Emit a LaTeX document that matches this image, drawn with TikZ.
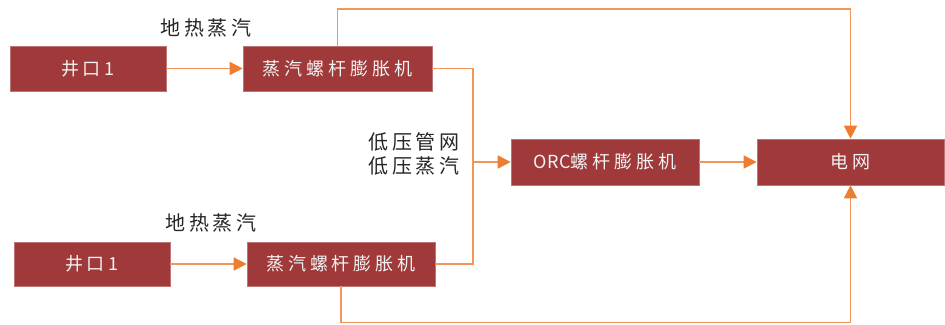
\documentclass[tikz,border=0pt]{standalone}
\usepackage{fontspec}
\setmainfont{Liberation Sans}
\newfontfamily\cjk{Noto Sans CJK SC}
\usetikzlibrary{arrows.meta}
\definecolor{boxred}{RGB}{160,57,58}
\definecolor{lineor}{RGB}{242,150,90}
\definecolor{tipor}{RGB}{237,125,49}
\tikzset{
  box/.style={draw=boxred!70!white, line width=0.6pt, fill=boxred, text=white!95!black, inner sep=0pt,
    font=\cjk\fontsize{18}{20}\selectfont\addfontfeatures{LetterSpace=22}},
  lbl/.style={text=black!85, inner sep=0pt, font=\cjk\fontsize{20}{22}\selectfont\addfontfeatures{LetterSpace=18}},
  conn/.style={draw=lineor, line width=1.5pt},
  arr/.style={conn, -{Triangle[length=13pt,width=13pt,color=tipor]}}
}
\begin{document}
\begin{tikzpicture}[x=1pt,y=-1pt]
\useasboundingbox (0,0) rectangle (945,324);
\node[box, minimum width=156pt, minimum height=45pt] (A1) at (88,68.5) {井口1};
\node[box, minimum width=189pt, minimum height=45pt] (B1) at (337.5,68.5) {蒸汽螺杆膨胀机};
\node[box, minimum width=188pt, minimum height=46pt] (ORC) at (605,162) {{\addfontfeatures{LetterSpace=2}ORC}螺杆膨胀机};
\node[box, minimum width=187pt, minimum height=46pt] (G) at (850.5,162) {电网};
\node[box, minimum width=156pt, minimum height=44pt] (A2) at (92,264) {井口1};
\node[box, minimum width=188pt, minimum height=44pt] (B2) at (341,264) {蒸汽螺杆膨胀机};
\node[lbl] (L1) at (206,28) {地热蒸汽};
\node[lbl] (L2) at (211,223) {地热蒸汽};
\node[lbl] (L3) at (414,142) {低压管网};
\node[lbl] (L4) at (414,166) {低压蒸汽};
\coordinate (top) at (0,9);
\coordinate (bot) at (0,322.5);
\coordinate (j) at (473,162);
\draw[arr] (A1.east) -- (B1.west);
\draw[arr] (A2.east) -- (B2.west);
\draw[arr] (B1.north) -- (B1.north |- top) -| (G.north);
\draw[conn] (B1.east) -| (j);
\draw[conn] (B2.east) -| (j);
\draw[arr] (j) -- (ORC.west);
\draw[arr] (ORC.east) -- (G.west);
\draw[arr] (B2.south) -- (B2.south |- bot) -| (G.south);
\end{tikzpicture}
\end{document}
